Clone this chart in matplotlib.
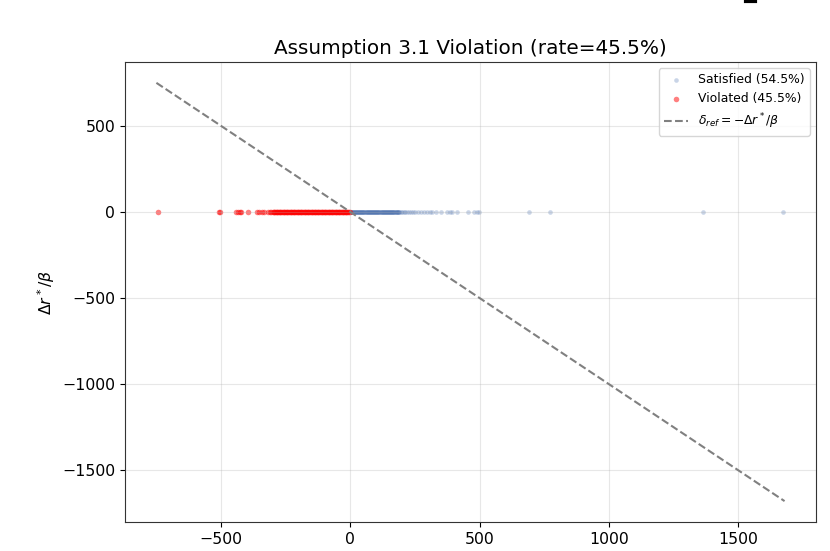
import matplotlib.pyplot as plt
from matplotlib.lines import Line2D

violated_x = [-742, -508, -503, -441, -436, -428, -422, -395, -360, -354, -340, -332,
              -320, -312, -306,
              -300, -297, -294, -291, -288, -285, -282, -279, -276, -273, -270, -267,
              -264, -261, -258, -255, -252, -249, -246, -243, -240, -237, -234, -231,
              -228, -225, -222, -219, -216, -213, -210, -207, -204, -201, -198, -195,
              -192, -189, -186, -183, -180, -177, -174, -171, -168, -165, -162, -159,
              -156, -153, -150, -147, -144, -141, -138, -135, -132, -129, -126, -123,
              -120, -117, -114, -111, -108, -105, -102, -99, -96, -93, -90, -87, -84,
              -81, -78, -75, -72, -69, -66, -63, -60, -57, -54, -51, -48, -45, -42,
              -39, -36, -33, -30, -27, -24, -21, -18, -15, -12, -9, -6, -3]
satisfied_x = [1, 3, 5, 7, 9, 11, 13, 15, 17, 19, 21, 23, 25, 27, 29, 31, 33, 35, 37,
               39, 41, 43, 45, 47, 49, 51, 53, 55, 57, 59, 61, 63, 65, 67, 69, 71, 73,
               75, 77, 79, 81, 83, 85, 87, 89, 91, 93, 95, 97, 99, 101, 103, 105, 107,
               109, 111, 113, 115, 117, 119, 121, 123, 125, 127, 129, 131, 133, 135,
               137, 139, 141, 143, 145, 147, 149, 151, 153, 155, 157, 159, 161, 163,
               165, 167, 169, 171, 173, 175, 177, 179, 181, 183, 185, 187, 189,
               195, 200, 206, 212, 219, 226, 234, 242, 250, 262, 272, 285, 296, 310,
               318, 332, 352, 376, 385, 393, 414, 457, 480, 490, 499, 691, 771, 1366,
               1675]
line_x = [-750, 1680]
rate_violated = 45.5
rate_satisfied = 54.5

fig = plt.figure(figsize=(8.3, 5.51), dpi=100)
ax = fig.add_axes([0.1506, 0.0526, 0.8325, 0.835])

ax.scatter(satisfied_x, [0] * len(satisfied_x), s=11, color='#4c72b0', alpha=0.3,
           linewidths=0, label=f'Satisfied ({rate_satisfied}%)')
ax.scatter(violated_x, [0] * len(violated_x), s=16, color='red', alpha=0.5,
           linewidths=0, label=f'Violated ({rate_violated}%)')
ax.plot(line_x, [-v for v in line_x], '--', color='gray', linewidth=1.5,
        label=r'$\delta_{ref} = -\Delta r^*/\beta$')

ax.set_title(f'Assumption 3.1 Violation (rate={rate_violated}%)', fontsize=14.4)
ax.set_ylabel(r'$\Delta r^*/\beta$', fontsize=11.3)
ax.tick_params(labelsize=11.3)
ax.grid(True, alpha=0.3)
ax.set_yticks([500, 0, -500, -1000, -1500])
ax.set_xticks([-500, 0, 500, 1000, 1500])
for sp in ax.spines.values():
    sp.set_color('#333333')
ax.legend(loc='upper right', fontsize=8.9)

# stray mark from the cropped figure above
fig.add_artist(Line2D([746 / 830, 755 / 830], [0.998, 0.998], color='black', linewidth=3))

fig.savefig('out.png', dpi=100)
